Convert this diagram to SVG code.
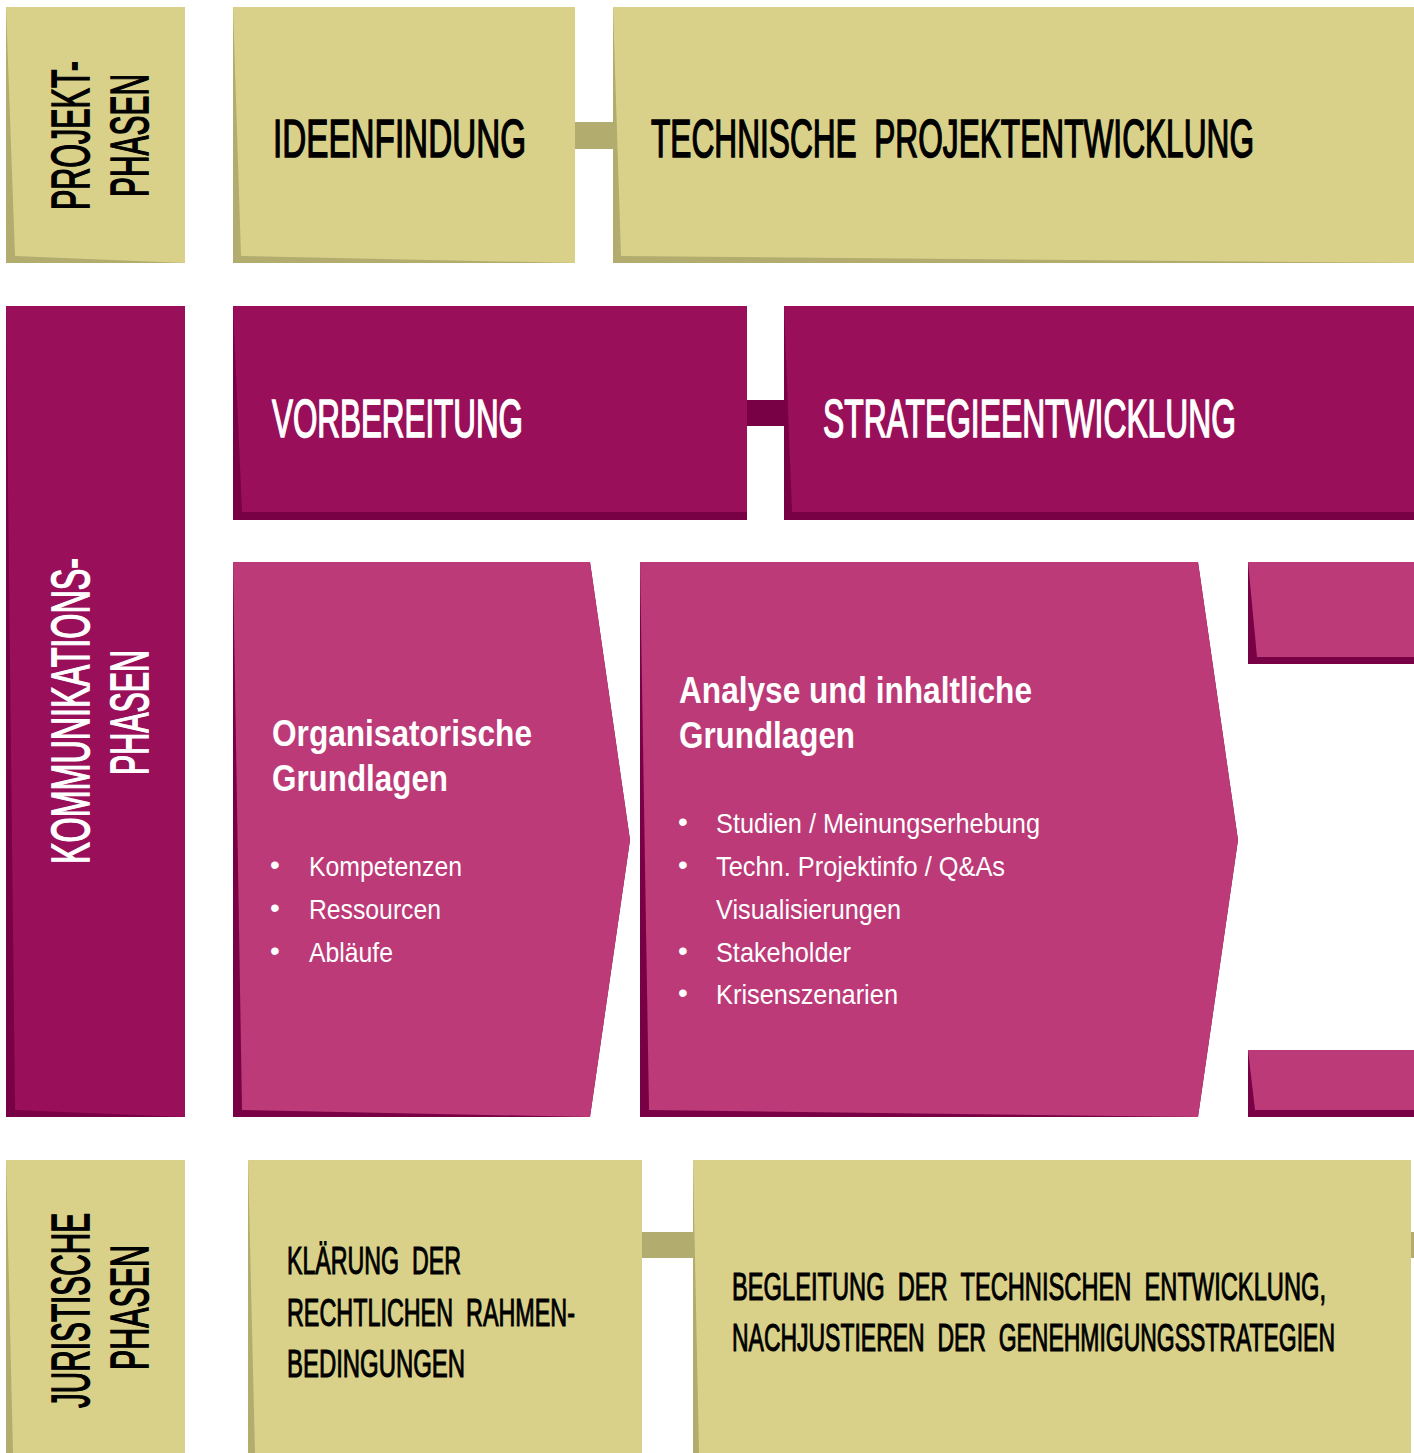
<svg xmlns="http://www.w3.org/2000/svg" width="1414" height="1453" viewBox="0 0 1414 1453">
  <style>
    .kl { fill: #D9D18A; }
    .kd { fill: #B2AC6E; }
    .ml { fill: #990F5A; }
    .md { fill: #780045; }
    .pl { fill: #BC3A78; }
    .head { font-family: "Liberation Sans Narrow", "Liberation Sans", sans-serif; font-size: 54px; stroke-width: 1.6px; }
    .small { font-family: "Liberation Sans Narrow", "Liberation Sans", sans-serif; font-size: 39px; fill: #000; stroke: #000; stroke-width: 1.1px; }
    .title { font-family: "Liberation Sans Narrow", "Liberation Sans", sans-serif; font-weight: bold; font-size: 36px; fill: #fff; }
    .item { font-family: "Liberation Sans Narrow", "Liberation Sans", sans-serif; font-size: 28px; fill: #fff; }
    .blk { fill: #000; stroke: #000; }
    .wht { fill: #fff; stroke: #fff; }
  </style>

  <!-- connector bars between phases -->
  <g id="connectors">
    <rect class="kd" x="575" y="122" width="38" height="27"/>
    <rect class="md" x="747" y="400" width="37" height="26"/>
    <rect class="kd" x="642" y="1232" width="51" height="26"/>
    <rect class="kd" x="1411" y="1232" width="3" height="26"/>
  </g>

  <!-- row 1: project phases -->
  <g id="projekt-phasen">
    <rect class="kd" x="6" y="7" width="179" height="256"/>
    <polygon class="kl" points="6,7 185,7 185,263 15,256"/>
    <text class="head blk" transform="translate(89,210) rotate(-90)" textLength="149" lengthAdjust="spacingAndGlyphs">PROJEKT-</text>
    <text class="head blk" transform="translate(148,197) rotate(-90)" textLength="123" lengthAdjust="spacingAndGlyphs">PHASEN</text>
  </g>
  <g id="ideenfindung">
    <rect class="kd" x="233" y="7" width="342" height="256"/>
    <polygon class="kl" points="233,7 575,7 575,263 241,256"/>
    <text class="head blk" x="273" y="157" textLength="253" lengthAdjust="spacingAndGlyphs">IDEENFINDUNG</text>
  </g>
  <g id="technische-projektentwicklung">
    <rect class="kd" x="613" y="7" width="801" height="256"/>
    <polygon class="kl" points="613,7 1414,7 1414,263 621,256"/>
    <text class="head blk" x="651" y="157" textLength="603" lengthAdjust="spacingAndGlyphs" xml:space="preserve">TECHNISCHE  PROJEKTENTWICKLUNG</text>
  </g>

  <!-- row 2: communication phases -->
  <g id="kommunikations-phasen">
    <rect class="md" x="6" y="306" width="179" height="811"/>
    <polygon class="ml" points="6,306 185,306 185,1117 15,1110"/>
    <text class="head wht" transform="translate(89,864) rotate(-90)" textLength="306" lengthAdjust="spacingAndGlyphs">KOMMUNIKATIONS-</text>
    <text class="head wht" transform="translate(148,775) rotate(-90)" textLength="125" lengthAdjust="spacingAndGlyphs">PHASEN</text>
  </g>
  <g id="vorbereitung">
    <rect class="md" x="233" y="306" width="514" height="214"/>
    <polygon class="ml" points="233,306 747,306 747,512 242,512"/>
    <text class="head wht" x="272" y="437" textLength="251" lengthAdjust="spacingAndGlyphs">VORBEREITUNG</text>
  </g>
  <g id="strategieentwicklung">
    <rect class="md" x="784" y="306" width="630" height="214"/>
    <polygon class="ml" points="784,306 1414,306 1414,512 792,512"/>
    <text class="head wht" x="823" y="437" textLength="413" lengthAdjust="spacingAndGlyphs">STRATEGIEENTWICKLUNG</text>
  </g>

  <g id="organisatorische-grundlagen">
    <polygon class="md" points="233,562 590,562 630,840 590,1117 233,1117"/>
    <polygon class="pl" points="233,562 590,562 630,840 590,1117 242,1110"/>
    <text class="title" x="272" y="746" textLength="260" lengthAdjust="spacingAndGlyphs">Organisatorische</text>
    <text class="title" x="272" y="791" textLength="176" lengthAdjust="spacingAndGlyphs">Grundlagen</text>
    <g class="item">
      <text x="270" y="874">•</text>
      <text x="309" y="876" textLength="153" lengthAdjust="spacingAndGlyphs">Kompetenzen</text>
      <text x="270" y="917">•</text>
      <text x="309" y="919" textLength="132" lengthAdjust="spacingAndGlyphs">Ressourcen</text>
      <text x="270" y="960">•</text>
      <text x="309" y="962" textLength="84" lengthAdjust="spacingAndGlyphs">Abläufe</text>
    </g>
  </g>
  <g id="analyse-inhaltliche-grundlagen">
    <polygon class="md" points="640,562 1198,562 1238,840 1198,1117 640,1117"/>
    <polygon class="pl" points="640,562 1198,562 1238,840 1198,1117 649,1110"/>
    <text class="title" x="679" y="703" textLength="353" lengthAdjust="spacingAndGlyphs">Analyse und inhaltliche</text>
    <text class="title" x="679" y="748" textLength="176" lengthAdjust="spacingAndGlyphs">Grundlagen</text>
    <g class="item">
      <text x="678" y="831">•</text>
      <text x="716" y="833" textLength="324" lengthAdjust="spacingAndGlyphs">Studien / Meinungserhebung</text>
      <text x="678" y="874">•</text>
      <text x="716" y="876" textLength="289" lengthAdjust="spacingAndGlyphs">Techn. Projektinfo / Q&amp;As</text>
      <text x="716" y="919" textLength="185" lengthAdjust="spacingAndGlyphs">Visualisierungen</text>
      <text x="678" y="960">•</text>
      <text x="716" y="962" textLength="135" lengthAdjust="spacingAndGlyphs">Stakeholder</text>
      <text x="678" y="1002">•</text>
      <text x="716" y="1004" textLength="182" lengthAdjust="spacingAndGlyphs">Krisenszenarien</text>
    </g>
  </g>
  <g id="folgephase-oben">
    <rect class="md" x="1248" y="562" width="166" height="102"/>
    <polygon class="pl" points="1248,562 1414,562 1414,657 1257,657"/>
  </g>
  <g id="folgephase-unten">
    <rect class="md" x="1248" y="1050" width="166" height="67"/>
    <polygon class="pl" points="1248,1050 1414,1050 1414,1110 1255,1110"/>
  </g>

  <!-- row 3: legal phases -->
  <g id="juristische-phasen">
    <rect class="kd" x="6" y="1160" width="179" height="293"/>
    <polygon class="kl" points="6,1160 185,1160 185,1453 13,1453"/>
    <text class="head blk" transform="translate(89,1408) rotate(-90)" textLength="195" lengthAdjust="spacingAndGlyphs">JURISTISCHE</text>
    <text class="head blk" transform="translate(148,1370) rotate(-90)" textLength="125" lengthAdjust="spacingAndGlyphs">PHASEN</text>
  </g>
  <g id="klaerung-rahmenbedingungen">
    <rect class="kd" x="248" y="1160" width="394" height="293"/>
    <polygon class="kl" points="248,1160 642,1160 642,1453 255,1453"/>
    <text class="small" x="287" y="1274" textLength="174" lengthAdjust="spacingAndGlyphs" xml:space="preserve">KLÄRUNG  DER</text>
    <text class="small" x="287" y="1326" textLength="288" lengthAdjust="spacingAndGlyphs" xml:space="preserve">RECHTLICHEN  RAHMEN-</text>
    <text class="small" x="287" y="1377" textLength="178" lengthAdjust="spacingAndGlyphs">BEDINGUNGEN</text>
  </g>
  <g id="begleitung-technische-entwicklung">
    <rect class="kd" x="693" y="1160" width="718" height="293"/>
    <polygon class="kl" points="693,1160 1411,1160 1411,1453 699,1453"/>
    <text class="small" x="732" y="1300" textLength="594" lengthAdjust="spacingAndGlyphs" xml:space="preserve">BEGLEITUNG  DER  TECHNISCHEN  ENTWICKLUNG,</text>
    <text class="small" x="732" y="1351" textLength="603" lengthAdjust="spacingAndGlyphs" xml:space="preserve">NACHJUSTIEREN  DER  GENEHMIGUNGSSTRATEGIEN</text>
  </g>
</svg>
